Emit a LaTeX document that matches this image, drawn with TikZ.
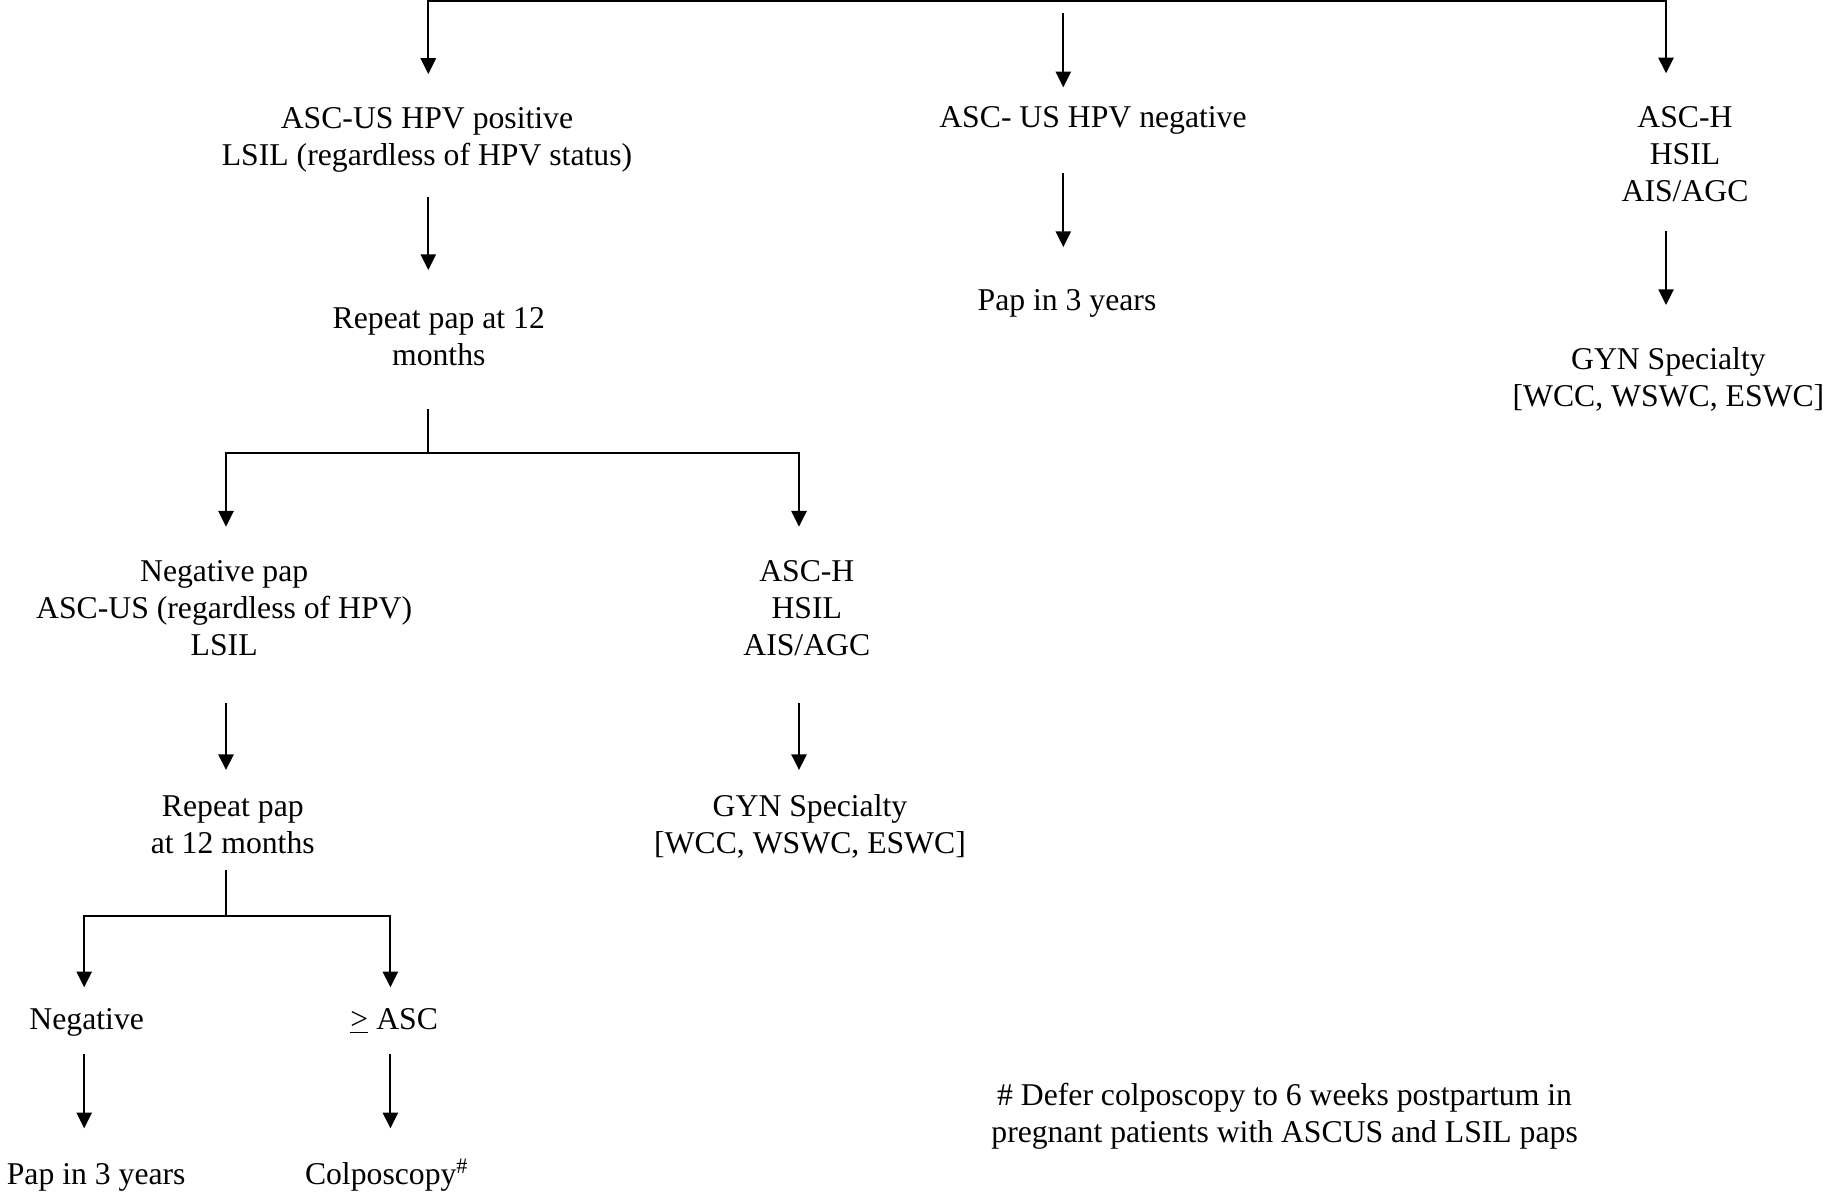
\documentclass[tikz,border=0pt]{standalone}
\usepackage{fontspec}
\setmainfont{Liberation Serif}
\usetikzlibrary{arrows.meta}
\begin{document}
\begin{tikzpicture}[x=0.4pt,y=-0.4pt,
  txt/.style={anchor=base, align=center, inner sep=0pt, font=\fontsize{12.68}{14.8}\selectfont},
  ln/.style={line width=0.8pt},
  >={Triangle[length=6.3pt,width=6.1pt]}]
\useasboundingbox (0,0) rectangle (1825,1192);
% ---------- text nodes (anchor = baseline of last line) ----------
\node[txt] (pos) at (427,165.4) {ASC-US HPV positive\\LSIL (regardless of HPV status)};
\node[txt] (rep1) at (438.8,365) {Repeat pap at 12\\months};
\node[txt] (negpap) at (224.2,655) {Negative pap\\ASC-US (regardless of HPV)\\LSIL};
\node[txt] (hsil2) at (806.8,655) {ASC-H\\HSIL\\AIS/AGC};
\node[txt] (rep2) at (232.8,853.3) {Repeat pap\\at 12 months};
\node[txt] (gyn2) at (810,853.3) {GYN Specialty\\{[WCC, WSWC, ESWC]}};
\node[txt] (neg) at (86.7,1029) {Negative};
\node[txt] (asc) at (394.2,1029) {\underline{>} ASC};
\node[txt] (pap2) at (96.2,1184) {Pap in 3 years};
\node[txt] (colpo) at (386.9,1184) {Colposcopy\textsuperscript{\#}};
\node[txt] (hpvneg) at (1093,127.7) {ASC- US HPV negative};
\node[txt] (pap1) at (1067,310) {Pap in 3 years};
\node[txt] (hsil1) at (1685,201.7) {ASC-H\\HSIL\\AIS/AGC};
\node[txt] (gyn1) at (1668.4,406.7) {GYN Specialty\\{[WCC, WSWC, ESWC]}};
\node[txt] (note) at (1284.6,1142) {\# Defer colposcopy to 6 weeks postpartum in\\pregnant patients with ASCUS and LSIL paps};
% ---------- connector points ----------
\coordinate (tl) at (428.3,1);
\coordinate (tr) at (1666,1);
\coordinate (posIn) at (428.3,74);
\coordinate (hsil1In) at (1666,73.3);
\coordinate (hpvnegS) at (1063.3,13.3);
\coordinate (hpvnegIn) at (1063.3,87.3);
\coordinate (posOut) at (428.3,196.7);
\coordinate (rep1In) at (428.3,270);
\coordinate (rep1Out) at (427.7,409);
\coordinate (j1) at (427.7,453.3);
\coordinate (j1l) at (226,453.3);
\coordinate (j1r) at (799,453.3);
\coordinate (negpapIn) at (226,526.7);
\coordinate (hsil2In) at (799,526.7);
\coordinate (negpapOut) at (226,703.3);
\coordinate (rep2In) at (226,770);
\coordinate (hsil2Out) at (799,703.3);
\coordinate (gyn2In) at (799,770);
\coordinate (rep2Out) at (226,870);
\coordinate (j2) at (226,915.7);
\coordinate (j2l) at (84.2,915.7);
\coordinate (j2r) at (390.4,915.7);
\coordinate (negIn) at (84.2,987.3);
\coordinate (ascIn) at (390.4,987.3);
\coordinate (negOut) at (84.2,1054);
\coordinate (pap2In) at (84.2,1128.3);
\coordinate (ascOut) at (390.4,1054);
\coordinate (colpoIn) at (390.4,1128.3);
\coordinate (hpvnegOut) at (1063.3,173);
\coordinate (pap1In) at (1063.3,247);
\coordinate (hsil1Out) at (1666,231);
\coordinate (gyn1In) at (1666,305);
% ---------- connectors ----------
\draw[ln,<->] (posIn) -- (tl) -- (tr) -- (hsil1In);
\draw[ln,->] (hpvnegS) -- (hpvnegIn);
\draw[ln,->] (posOut) -- (rep1In);
\draw[ln] (rep1Out) -- (j1);
\draw[ln,<->] (negpapIn) -- (j1l) -- (j1r) -- (hsil2In);
\draw[ln,->] (negpapOut) -- (rep2In);
\draw[ln,->] (hsil2Out) -- (gyn2In);
\draw[ln] (rep2Out) -- (j2);
\draw[ln,<->] (negIn) -- (j2l) -- (j2r) -- (ascIn);
\draw[ln,->] (negOut) -- (pap2In);
\draw[ln,->] (ascOut) -- (colpoIn);
\draw[ln,->] (hpvnegOut) -- (pap1In);
\draw[ln,->] (hsil1Out) -- (gyn1In);
\end{tikzpicture}
\end{document}
